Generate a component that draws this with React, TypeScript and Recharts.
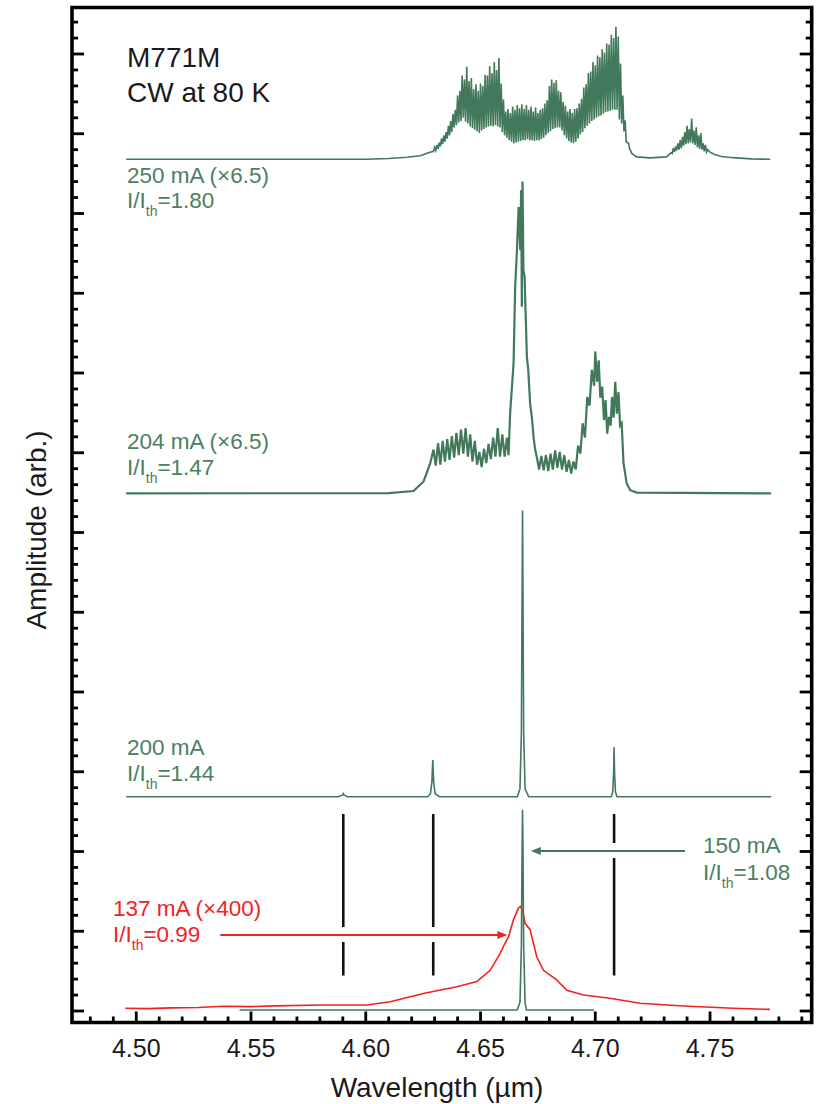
import React from "react";
import { LineChart, Line, XAxis, YAxis, ReferenceLine, ReferenceArea } from "recharts";

// wavelength (um) , amplitude above the trace's own baseline (arb., 1 = one major y tick)
const spec250: [number, number][] = [
  [4.4956, 0], [4.6, 0], [4.61, 0.01], [4.618, 0.025], [4.6237, 0.045], [4.627, 0.08],
  [4.6295, 0.1], [4.63, 0.15], [4.6305, 0.11], [4.631, 0.18], [4.6315, 0.13], [4.632, 0.21],
  [4.6325, 0.16], [4.633, 0.26], [4.6335, 0.19],
  [4.634, 0.3], [4.6345, 0.22], [4.635, 0.34], [4.6355, 0.26], [4.636, 0.42], [4.6365, 0.3],
  [4.637, 0.48], [4.6375, 0.34], [4.638, 0.57], [4.6385, 0.4], [4.639, 0.62], [4.6395, 0.43],
  [4.64, 0.8], [4.6405, 0.46], [4.641, 0.86], [4.6415, 0.48], [4.642, 1.05], [4.6425, 0.52],
  [4.643, 1.0], [4.6435, 0.47], [4.644, 1.16], [4.6445, 0.45], [4.645, 0.98], [4.6455, 0.41],
  [4.646, 1.02], [4.6465, 0.39], [4.647, 0.88], [4.6475, 0.37], [4.648, 0.94], [4.6485, 0.35],
  [4.649, 0.86], [4.6495, 0.33], [4.65, 0.95], [4.6505, 0.36], [4.651, 0.92], [4.6515, 0.38],
  [4.652, 1.06], [4.6525, 0.4], [4.653, 1.05], [4.6535, 0.41], [4.654, 1.17], [4.6545, 0.42],
  [4.655, 1.08], [4.6555, 0.41], [4.656, 1.22], [4.6565, 0.43], [4.657, 1.12], [4.6575, 0.41],
  [4.658, 1.27], [4.6585, 0.4], [4.659, 0.95], [4.6595, 0.34], [4.66, 0.75], [4.6605, 0.3],
  [4.661, 0.6], [4.6615, 0.27], [4.662, 0.63], [4.6625, 0.24], [4.663, 0.58], [4.6635, 0.22],
  [4.664, 0.66], [4.6645, 0.2], [4.665, 0.62], [4.6655, 0.21], [4.666, 0.68], [4.6665, 0.22],
  [4.667, 0.64], [4.6675, 0.23], [4.668, 0.69], [4.6685, 0.24], [4.669, 0.63], [4.6695, 0.24],
  [4.67, 0.68], [4.6705, 0.25], [4.671, 0.62], [4.6715, 0.24], [4.672, 0.66], [4.6725, 0.24],
  [4.673, 0.6], [4.6735, 0.23], [4.674, 0.65], [4.6745, 0.24], [4.675, 0.58], [4.6755, 0.24],
  [4.676, 0.62], [4.6765, 0.25], [4.677, 0.64], [4.6775, 0.27], [4.678, 0.7], [4.6785, 0.3],
  [4.679, 0.74], [4.6795, 0.33], [4.68, 0.92], [4.6805, 0.35], [4.681, 1.0], [4.6815, 0.38],
  [4.682, 0.96], [4.6825, 0.39], [4.683, 0.99], [4.6835, 0.4], [4.684, 0.86], [4.6845, 0.4],
  [4.685, 0.84], [4.6855, 0.36], [4.686, 0.72], [4.6865, 0.3], [4.687, 0.67], [4.6875, 0.26],
  [4.688, 0.6], [4.6885, 0.23], [4.689, 0.63], [4.6895, 0.21], [4.69, 0.58], [4.6905, 0.2],
  [4.691, 0.63], [4.6915, 0.22], [4.692, 0.64], [4.6925, 0.26], [4.693, 0.7], [4.6935, 0.31],
  [4.694, 0.76], [4.6945, 0.34], [4.695, 0.9], [4.6955, 0.39], [4.696, 0.94], [4.6965, 0.42],
  [4.697, 1.08], [4.6975, 0.45], [4.698, 1.1], [4.6985, 0.48], [4.699, 1.22], [4.6995, 0.5],
  [4.7, 1.18], [4.7005, 0.52], [4.701, 1.3], [4.7015, 0.54], [4.702, 1.28], [4.7025, 0.55],
  [4.703, 1.38], [4.7035, 0.57], [4.704, 1.34], [4.7045, 0.59], [4.705, 1.45], [4.7055, 0.6],
  [4.706, 1.44], [4.7065, 0.61], [4.707, 1.56], [4.7075, 0.62], [4.708, 1.52], [4.7085, 0.62],
  [4.709, 1.66], [4.7095, 0.62], [4.71, 1.54], [4.7105, 0.5], [4.711, 1.2], [4.7115, 0.45],
  [4.712, 0.8], [4.7125, 0.35], [4.713, 0.49], [4.7135, 0.22], [4.7145, 0.2], [4.715, 0.13],
  [4.716, 0.07], [4.718, 0.03], [4.724, 0.017], [4.731, 0.03], [4.733, 0.08], [4.7335, 0.07],
  [4.734, 0.14], [4.7345, 0.09], [4.735, 0.16], [4.7355, 0.11], [4.736, 0.2], [4.7365, 0.12],
  [4.737, 0.24], [4.7375, 0.14], [4.738, 0.28], [4.7385, 0.17], [4.739, 0.34], [4.7395, 0.19],
  [4.74, 0.42], [4.7405, 0.2], [4.741, 0.38], [4.7415, 0.21], [4.742, 0.51], [4.7425, 0.2],
  [4.743, 0.36], [4.7435, 0.18], [4.744, 0.4], [4.7445, 0.15], [4.745, 0.3], [4.7455, 0.13],
  [4.746, 0.33], [4.7465, 0.12], [4.747, 0.2], [4.7475, 0.1], [4.748, 0.18], [4.7485, 0.09],
  [4.749, 0.12], [4.75, 0.09], [4.752, 0.06], [4.755, 0.035], [4.76, 0.02], [4.768, 0.005],
  [4.7762, 0],
];

const spec204: [number, number][] = [
  [4.4956, 0], [4.61, 0.005], [4.6208, 0.03], [4.6252, 0.15], [4.6281, 0.38],
  [4.6295, 0.55], [4.6305, 0.35], [4.6315, 0.63], [4.6325, 0.36], [4.6335, 0.66], [4.6345, 0.4],
  [4.6355, 0.68], [4.6365, 0.42], [4.6375, 0.72], [4.6385, 0.45], [4.6395, 0.76], [4.6405, 0.48],
  [4.6415, 0.8], [4.6425, 0.5], [4.6435, 0.82], [4.6445, 0.46], [4.6455, 0.74], [4.6465, 0.4],
  [4.6475, 0.66], [4.6485, 0.36], [4.6495, 0.52], [4.6505, 0.33], [4.6515, 0.56], [4.6525, 0.38],
  [4.6535, 0.62], [4.6545, 0.43], [4.6555, 0.7], [4.6565, 0.46], [4.6575, 0.82], [4.6585, 0.46],
  [4.6595, 0.74], [4.6605, 0.46], [4.6615, 0.7], [4.6622, 0.48],
  [4.6629, 1.0], [4.6644, 1.63], [4.6651, 2.59], [4.6658, 3.01], [4.6666, 3.59], [4.6673, 3.05],
  [4.6677, 3.8], [4.668, 2.34], [4.6683, 3.91], [4.6687, 2.8], [4.6692, 2.72], [4.6702, 1.71],
  [4.6708, 1.55], [4.6716, 1.13], [4.6724, 0.95], [4.6731, 0.71], [4.6738, 0.55], [4.6745, 0.46],
  [4.6755, 0.3], [4.6765, 0.47], [4.6775, 0.29], [4.6785, 0.48], [4.6795, 0.28], [4.6805, 0.5],
  [4.6815, 0.3], [4.6825, 0.54], [4.6835, 0.32], [4.6845, 0.52], [4.6855, 0.3], [4.6865, 0.48],
  [4.6875, 0.27], [4.6885, 0.42], [4.6895, 0.25], [4.6905, 0.4], [4.6915, 0.3], [4.6925, 0.6],
  [4.6935, 0.5], [4.6945, 0.88], [4.6955, 0.7], [4.6965, 1.21], [4.6975, 1.1], [4.6985, 1.55],
  [4.6995, 1.35], [4.7, 1.78], [4.7008, 1.4], [4.7015, 1.67], [4.7022, 1.2], [4.703, 1.34],
  [4.7038, 0.92], [4.7045, 1.17], [4.7052, 0.75], [4.706, 0.96], [4.7067, 0.85], [4.7073, 1.21],
  [4.708, 0.95], [4.7087, 1.4], [4.7094, 1.0], [4.7101, 1.27], [4.7108, 0.85], [4.7115, 0.88],
  [4.7123, 0.38], [4.7137, 0.125], [4.7152, 0.04], [4.7181, 0.01], [4.7766, 0],
];

const spec200: [number, number][] = [
  [4.4956, 0], [4.588, 0], [4.5898, 0.02], [4.5902, 0.04], [4.5906, 0.02], [4.592, 0],
  [4.627, 0], [4.6282, 0.04], [4.6288, 0.18], [4.6292, 0.46], [4.6296, 0.18], [4.6302, 0.04],
  [4.632, 0], [4.666, 0], [4.6672, 0.1], [4.6678, 0.8], [4.6681, 2.5], [4.6683, 3.59],
  [4.6685, 2.5], [4.6688, 0.8], [4.6694, 0.1], [4.671, 0], [4.707, 0], [4.7076, 0.06],
  [4.708, 0.3], [4.7082, 0.62], [4.7084, 0.3], [4.7088, 0.06], [4.7095, 0], [4.7766, 0],
];

const spec150: [number, number][] = [
  [4.545, 0], [4.666, 0], [4.6672, 0.1], [4.6678, 0.8], [4.6681, 2.0], [4.6683, 2.51],
  [4.6685, 2.0], [4.6688, 0.8], [4.6694, 0.1], [4.67, 0], [4.6995, 0],
];

const spec137: [number, number][] = [
  [4.4952, 0.034], [4.505, 0.03], [4.515, 0.04], [4.527, 0.045], [4.538, 0.06], [4.55, 0.055],
  [4.56, 0.065], [4.5815, 0.075], [4.6005, 0.075], [4.6106, 0.117], [4.618, 0.17], [4.6251, 0.22],
  [4.632, 0.26], [4.6397, 0.305], [4.6484, 0.37], [4.6542, 0.51], [4.6585, 0.72], [4.6605, 0.84],
  [4.6622, 0.93], [4.6643, 1.14], [4.6665, 1.29], [4.6675, 1.31], [4.6685, 1.24], [4.6694, 1.1],
  [4.6716, 1.02], [4.6745, 0.68], [4.6774, 0.51], [4.6832, 0.39], [4.6876, 0.26], [4.6948, 0.2],
  [4.7064, 0.16], [4.7195, 0.097], [4.7384, 0.063], [4.7601, 0.034], [4.7761, 0.02],
];

// vertical offsets of each trace
const base250 = 10.68;
const base204 = 6.49;
const base200 = 2.687;
const base150 = 0.012;
const base137 = 0;

// longitudinal modes marked with black bars
const modeMarks = [4.5902, 4.6294, 4.7082];

const xMajorLabels = ["4.50", "4.55", "4.60", "4.65", "4.70", "4.75"];
const xTicks = Array.from({ length: 32 }, (_, i) => +(4.48 + i * 0.01).toFixed(2));
const yTicks = Array.from({ length: 63 }, (_, i) => +(i * 0.2).toFixed(1));

const X_DOMAIN: [number, number] = [4.472, 4.7943];
const Y_DOMAIN: [number, number] = [-0.144, 12.583];

const GREEN = "#41795a";
const GREEN_TEXT = "#4c8061";
const RED = "#f0231f";
const FONT = "'Liberation Sans', Arial, Helvetica, sans-serif";

const rows = (arr: [number, number][], base: number) =>
  arr.map(([w, a]) => ({ w, a: +(a + base).toFixed(4) }));

const isMajorX = (v: number) => Math.abs(v * 20 - Math.round(v * 20)) < 1e-6;
const isMajorY = (v: number) => Math.abs(v - Math.round(v)) < 1e-6;

const TW = 2.8;

const BottomTick = (p: any) => {
  const { x, y, payload } = p;
  const major = isMajorX(payload.value);
  const label = xMajorLabels.find((l) => Math.abs(+l - payload.value) < 1e-6);
  return (
    <g>
      <line x1={x} y1={y} x2={x} y2={y - (major ? 11 : 6)} stroke="#000" strokeWidth={TW} />
      {label && (
        <text x={x} y={y + 34.5} textAnchor="middle" fontSize={25} fontFamily={FONT} fill="#1a1a1a">
          {label}
        </text>
      )}
    </g>
  );
};

const TopTick = (p: any) => {
  const { x, y, payload } = p;
  const major = isMajorX(payload.value);
  return <line x1={x} y1={y} x2={x} y2={y + (major ? 11 : 6)} stroke="#000" strokeWidth={TW} />;
};

const LeftTick = (p: any) => {
  const { x, y, payload } = p;
  const major = isMajorY(payload.value);
  return <line x1={x} y1={y} x2={x + (major ? 12 : 6)} y2={y} stroke="#000" strokeWidth={TW} />;
};

const RightTick = (p: any) => {
  const { x, y, payload } = p;
  const major = isMajorY(payload.value);
  return <line x1={x} y1={y} x2={x - (major ? 12 : 6)} y2={y} stroke="#000" strokeWidth={TW} />;
};

const Arrow = (color: string) => (p: any) => {
  const { x1, y1, x2, y2 } = p;
  const dir = x2 > x1 ? 1 : -1;
  const hl = 10;
  return (
    <g>
      <line x1={x1} y1={y1} x2={x2 - dir * hl * 0.8} y2={y2} stroke={color} strokeWidth={2} />
      <polygon
        points={`${x2},${y2} ${x2 - dir * hl},${y2 - 4} ${x2 - dir * hl},${y2 + 4}`}
        fill={color}
      />
    </g>
  );
};

const Sub = ({ x, y, color, value }: { x: number; y: number; color: string; value: string }) => (
  <text x={x} y={y} fontSize={22.5} fontFamily={FONT} fill={color}>
    I/I
    <tspan fontSize={14} dy={8}>th</tspan>
    <tspan dy={-8}>{value}</tspan>
  </text>
);

export default function App() {
  return (
    <div style={{ position: "absolute", left: 0, top: 0, width: 823, height: 1104, background: "#fff" }}>
      <LineChart width={823} height={1104} margin={{ top: 7.5, right: 0, bottom: 0, left: 0 }}>
        <XAxis
          xAxisId="b"
          dataKey="w"
          type="number"
          domain={X_DOMAIN}
          allowDataOverflow
          ticks={xTicks}
          interval={0}
          height={81.5}
          tickSize={0}
          tickMargin={0}
          tickLine={false}
          tick={BottomTick}
          axisLine={false}
        />
        <XAxis
          xAxisId="t"
          orientation="top"
          dataKey="w"
          type="number"
          domain={X_DOMAIN}
          allowDataOverflow
          ticks={xTicks}
          interval={0}
          height={0}
          tickSize={0}
          tickMargin={0}
          tickLine={false}
          tick={TopTick}
          axisLine={false}
        />
        <YAxis
          yAxisId="l"
          type="number"
          domain={Y_DOMAIN}
          allowDataOverflow
          ticks={yTicks}
          interval={0}
          width={72}
          tickSize={0}
          tickMargin={0}
          tickLine={false}
          tick={LeftTick}
          axisLine={false}
        />
        <YAxis
          yAxisId="r"
          orientation="right"
          type="number"
          domain={Y_DOMAIN}
          allowDataOverflow
          ticks={yTicks}
          interval={0}
          width={11.3}
          tickSize={0}
          tickMargin={0}
          tickLine={false}
          tick={RightTick}
          axisLine={false}
        />

        <Line xAxisId="b" yAxisId="l" data={rows(spec250, base250)} dataKey="a" type="linear" stroke={GREEN} strokeWidth={1.6} dot={false} isAnimationActive={false} />
        <Line xAxisId="b" yAxisId="l" data={rows(spec204, base204)} dataKey="a" type="linear" stroke={GREEN} strokeWidth={2.2} dot={false} isAnimationActive={false} />
        <Line xAxisId="b" yAxisId="l" data={rows(spec200, base200)} dataKey="a" type="linear" stroke={GREEN} strokeWidth={1.6} dot={false} isAnimationActive={false} />
        <Line xAxisId="b" yAxisId="l" data={rows(spec137, base137)} dataKey="a" type="linear" stroke={RED} strokeWidth={1.6} dot={false} isAnimationActive={false} />
        <Line xAxisId="b" yAxisId="l" data={rows(spec150, base150)} dataKey="a" type="linear" stroke={GREEN} strokeWidth={1.6} dot={false} isAnimationActive={false} />

        {modeMarks.map((m, i) => {
          const gapTop = i < 2 ? 1.053 : 2.107;
          const gapBot = i < 2 ? 0.865 : 1.918;
          return (
            <React.Fragment key={m}>
              <ReferenceLine xAxisId="b" yAxisId="l" segment={[{ x: m, y: 2.47 }, { x: m, y: gapTop }]} stroke="#111" strokeWidth={2.6} />
              <ReferenceLine xAxisId="b" yAxisId="l" segment={[{ x: m, y: gapBot }, { x: m, y: 0.445 }]} stroke="#111" strokeWidth={2.6} />
            </React.Fragment>
          );
        })}
        <ReferenceLine xAxisId="b" yAxisId="l" segment={[{ x: 4.5366, y: 0.953 }, { x: 4.6617, y: 0.953 }]} shape={Arrow(RED)} />
        <ReferenceLine xAxisId="b" yAxisId="l" segment={[{ x: 4.7391, y: 2.006 }, { x: 4.6719, y: 2.006 }]} shape={Arrow(GREEN)} />

        <ReferenceArea
          xAxisId="b"
          yAxisId="l"
          x1={X_DOMAIN[0]}
          x2={X_DOMAIN[1]}
          y1={Y_DOMAIN[0]}
          y2={Y_DOMAIN[1]}
          fill="none"
          fillOpacity={0}
          stroke="#000"
          strokeWidth={3.6}
          ifOverflow="visible"
        />
      </LineChart>

      <svg width={823} height={1104} style={{ position: "absolute", left: 0, top: 0, pointerEvents: "none" }}>
        <text x={127} y={66.5} fontSize={28} fontFamily={FONT} fill="#1a1a1a">M771M</text>
        <text x={127} y={101.5} fontSize={28} fontFamily={FONT} fill="#1a1a1a">CW at 80 K</text>

        <text x={127} y={183} fontSize={22.5} fontFamily={FONT} fill={GREEN_TEXT}>250 mA (×6.5)</text>
        <Sub x={127} y={208} color={GREEN_TEXT} value="=1.80" />

        <text x={127} y={449} fontSize={22.5} fontFamily={FONT} fill={GREEN_TEXT}>204 mA (×6.5)</text>
        <Sub x={127} y={475} color={GREEN_TEXT} value="=1.47" />

        <text x={127} y={755} fontSize={22.5} fontFamily={FONT} fill={GREEN_TEXT}>200 mA</text>
        <Sub x={127} y={781} color={GREEN_TEXT} value="=1.44" />

        <text x={703} y={853} fontSize={22.5} fontFamily={FONT} fill={GREEN_TEXT}>150 mA</text>
        <Sub x={703} y={880} color={GREEN_TEXT} value="=1.08" />

        <text x={113} y={916} fontSize={22.5} fontFamily={FONT} fill={RED}>137 mA (×400)</text>
        <Sub x={113} y={942} color={RED} value="=0.99" />

        <text x={437} y={1097} textAnchor="middle" fontSize={28} fontFamily={FONT} fill="#1a1a1a">Wavelength (µm)</text>
        <text x={46} y={530} textAnchor="middle" fontSize={28} fontFamily={FONT} fill="#1a1a1a" transform="rotate(-90 46 530)">
          Amplitude (arb.)
        </text>
      </svg>
    </div>
  );
}
